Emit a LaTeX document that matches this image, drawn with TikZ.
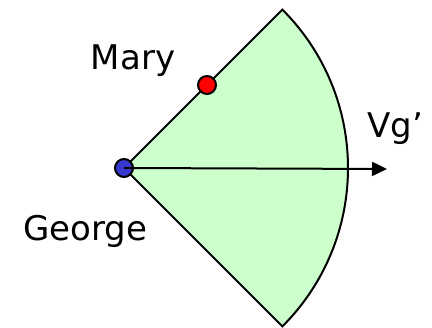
\documentclass[tikz,border=0pt]{standalone}
\usepackage{fontspec}
\setmainfont{DejaVu Sans}
\usetikzlibrary{arrows.meta}
\definecolor{sectorgreen}{HTML}{CCFFCC}
\definecolor{dotblue}{HTML}{3838D0}
\begin{document}
\begin{tikzpicture}[x=1pt,y=-1pt,
  lbl/.style={font=\fontsize{34}{40}\selectfont, inner sep=0pt},
  dot/.style={circle, draw=black, line width=2pt, minimum size=18pt, inner sep=0pt},
  edge/.style={draw=black, line width=2pt}]
\useasboundingbox (0,0) rectangle (432,328);
\coordinate (c) at (124,168);
\filldraw[fill=sectorgreen, line width=2pt, line join=miter]
  (c) -- ++(45:224) arc[start angle=45, end angle=-45, radius=224] -- cycle;
\node[dot, fill=dotblue] (george) at (c) {};
\node[dot, fill=red] (mary) at (207,85) {};
\coordinate (tip) at (387,169);
\draw[edge, -{Triangle[length=15pt,width=14pt]}] (george.center) -- (tip);
\node[lbl] (marylbl) at (133,61) {Mary};
\node[lbl] (vglbl) at (395,129) {Vg’};
\node[lbl] (georgelbl) at (85,231) {George};
\end{tikzpicture}
\end{document}
